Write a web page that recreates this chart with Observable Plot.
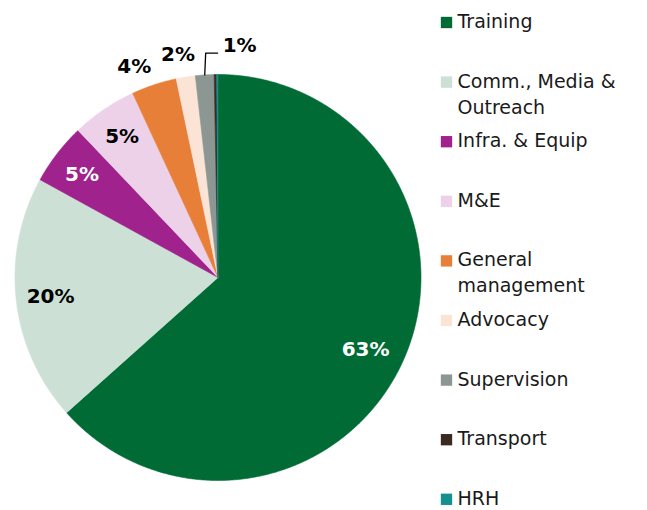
<!DOCTYPE html>
<html><head><meta charset="utf-8">
<script src="https://cdn.jsdelivr.net/npm/d3@7"></script>
<script src="https://cdn.jsdelivr.net/npm/@observablehq/plot@0.6"></script>
<style>html,body{margin:0;padding:0;background:#fff}#chart svg{display:block}</style>
</head><body><div id="chart"></div>
<script>
// ---- data ----
const categories = ["Training","Comm., Media & Outreach","Infra. & Equip","M&E","General management","Advocacy","Supervision","Transport","HRH"];
const legendLabels = ["Training","Comm., Media &\nOutreach","Infra. & Equip","M&E","General\nmanagement","Advocacy","Supervision","Transport","HRH"];
const shares = [63.4, 19.6, 4.9, 5.2, 3.6, 1.52, 1.48, 0.2, 0.1];
const valueLabels = ["63%","20%","5%","5%","4%","2%","1%","",""];
const colors = ["#006B35","#CCE0D5","#A0228C","#ECD1E8","#E87F38","#FBE3D6","#8C9794","#3B2A1F","#14918F"];
const labelColors = ["#ffffff","#000000","#ffffff","#000000","#000000","#000000","#000000","#000000","#000000"];

// ---- layout (not data) ----
const labelPlacement = [
  {r:0.81, da:2}, {r:0.83, da:0}, {r:0.84, da:-0.5}, {r:0.84, da:0},
  {r:1.117, da:-3.3}, {r:1.117, da:-1}, {leader:true}, null, null
];
const W = 647, H = 510, cx = 217.5, cy = 277, R = 203;

const rad = Math.PI / 180;
const arcs = d3.pie().sort(null).value(d => d)(shares);
const pt = (a, r) => ({x: r * Math.sin(a), y: r * Math.cos(a)});

// slice polygons in data units
const slicePts = [];
arcs.forEach((a, i) => {
  const key = categories[i];
  const n = Math.max(2, Math.ceil((a.endAngle - a.startAngle) / (0.25 * rad)));
  slicePts.push({key, ...pt(0, 0)});
  for (let k = 0; k <= n; k++) {
    const t = a.startAngle + (a.endAngle - a.startAngle) * k / n;
    slicePts.push({key, ...pt(t, 1)});
  }
  slicePts.push({key, ...pt(0, 0)});
});

// value labels
const labels = [];
const leader = [];
arcs.forEach((a, i) => {
  const p = labelPlacement[i];
  if (!p || !valueLabels[i]) return;
  const mid = (a.startAngle + a.endAngle) / 2;
  if (p.leader) {
    const p0 = pt(mid, 1);
    const p1 = pt(mid + 0.6 * rad, 1.107);
    const p2 = {x: p1.x + 12 / R, y: p1.y};
    leader.push(p0, p1, p2);
    labels.push({x: p2.x + 5 / R, y: p2.y + 8 / R, text: valueLabels[i], c: labelColors[i], anchor: "start"});
  } else {
    const q = pt(mid + p.da * rad, p.r);
    labels.push({x: q.x, y: q.y, text: valueLabels[i], c: labelColors[i], anchor: "middle"});
  }
});

// legend
const legend = categories.map((c, i) => ({
  key: c,
  label: legendLabels[i],
  y: (cy - (20.5 + i * 59.6)) / R
}));
const legSqX = (446 - cx) / R, legTxtX = (457 - cx) / R;

const chart = Plot.plot({
  width: W, height: H,
  marginLeft: cx - R, marginRight: W - (cx + R),
  marginTop: cy - R, marginBottom: H - (cy + R),
  x: {domain: [-1, 1], axis: null},
  y: {domain: [-1, 1], axis: null},
  color: {domain: categories, range: colors},
  style: {fontFamily: "DejaVu Sans", background: "#fff", overflow: "visible"},
  marks: [
    Plot.line(slicePts, {x: "x", y: "y", z: "key", fill: "key", stroke: "key", strokeWidth: 0.6, curve: "linear", strokeLinejoin: "round"}),
    Plot.line(leader, {x: "x", y: "y", stroke: "#000", strokeWidth: 1.3, curve: "linear"}),
    Plot.text(labels.filter(d => d.anchor === "middle"), {x: "x", y: "y", text: "text", fill: "c", fontSize: 20, fontWeight: "bold", textAnchor: "middle", lineAnchor: "middle"}),
    Plot.text(labels.filter(d => d.anchor === "start"), {x: "x", y: "y", text: "text", fill: "c", fontSize: 20, fontWeight: "bold", textAnchor: "start", lineAnchor: "middle"}),
    Plot.dot(legend, {x: () => legSqX, y: "y", dy: 1.5, fill: "key", symbol: "square", r: 6.4, stroke: null}),
    Plot.text(legend, {x: () => legTxtX, y: "y", text: "label", fill: "#1a1a1a", fontSize: 19, textAnchor: "start", lineAnchor: "top", dy: -11.5, lineHeight: 1.37})
  ]
});
document.getElementById("chart").appendChild(chart);
</script>
</body></html>
